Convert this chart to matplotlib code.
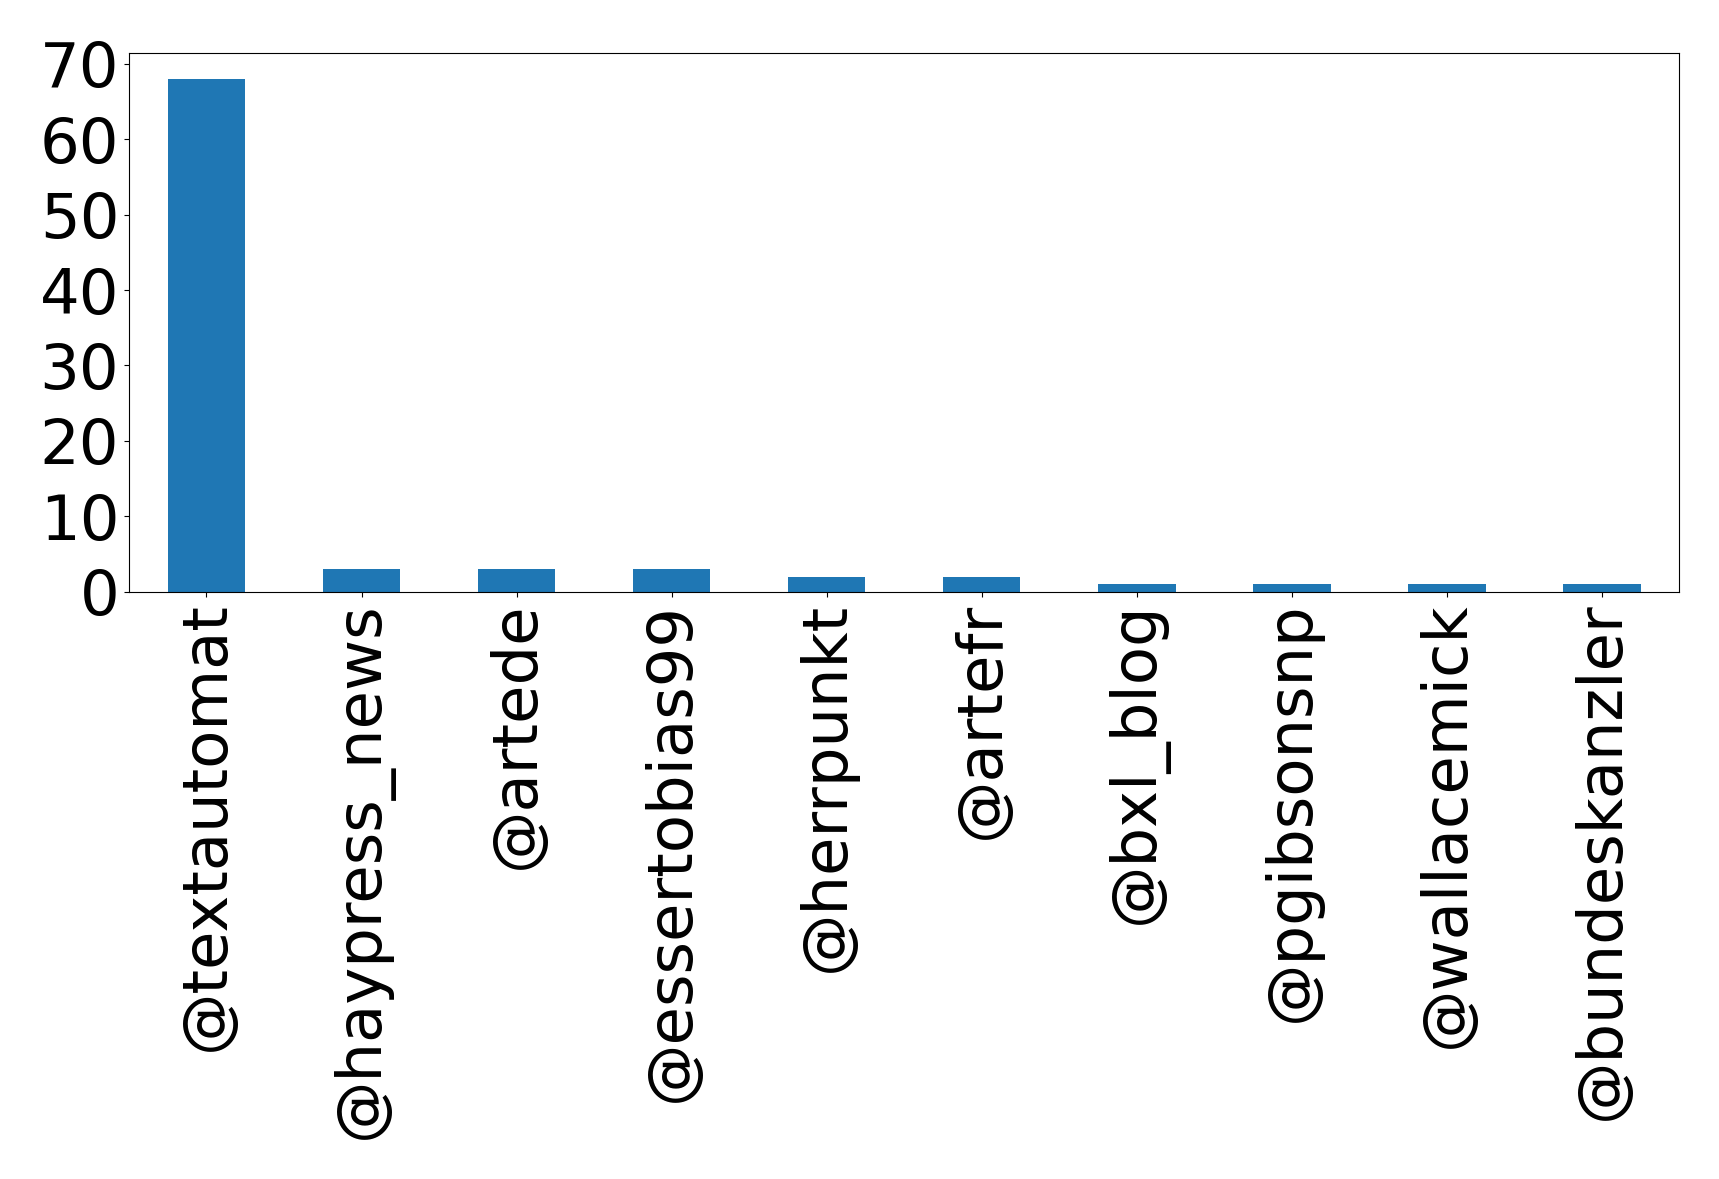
import numpy as np
import matplotlib
matplotlib.use("Agg")
import matplotlib.pyplot as plt

# Datos
usuarios = ['@textautomat', '@haypress_news', '@artede', '@essertobias99', '@herrpunkt',
            '@artefr', '@bxl_blog', '@pgibsonsnp', '@wallacemick', '@bundeskanzler']
menciones = [68, 3, 3, 3, 2, 2, 1, 1, 1, 1]

fig = plt.figure(figsize=(17.19, 11.79), dpi=100)
ax = fig.add_axes([0.075, 0.498, 0.902, 0.457])

x = np.arange(len(usuarios))
ax.bar(x, menciones, width=0.5, color='#1f77b4')
ax.set_xlim(-0.5, len(usuarios) - 0.5)
ax.set_xticks(x)
ax.set_xticklabels(usuarios, rotation=90)
ax.set_yticks(np.arange(0, 71, 10))
ax.tick_params(labelsize=45)

fig.savefig('out.png', dpi=100)
